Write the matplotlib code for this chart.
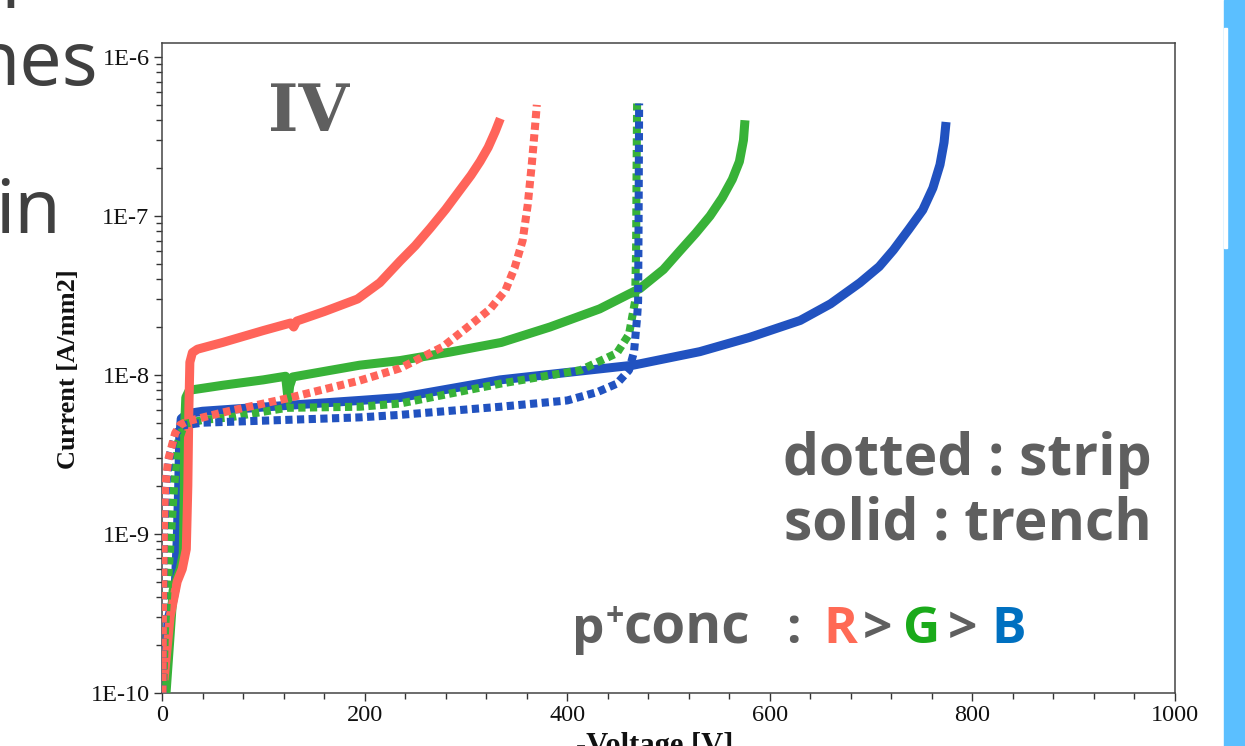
import matplotlib
matplotlib.use("Agg")
import matplotlib.pyplot as plt
from matplotlib.ticker import FixedLocator, LogLocator, NullFormatter, MultipleLocator
from matplotlib.patches import Rectangle

# ---- measured IV data: -Voltage [V] vs Current [A/mm2] ----
v_r_trench = [2, 8, 15, 20, 24, 25.5, 26.5, 27.5, 30, 35, 60, 100, 127, 130, 133,
              160, 193, 215, 235, 250, 265, 280, 294, 305, 314, 322, 329, 334]
i_r_trench = [1.2e-10, 3e-10, 5e-10, 6e-10, 8e-10, 2e-9, 6e-9, 1.2e-8, 1.38e-8, 1.45e-8,
              1.6e-8, 1.9e-8, 2.12e-8, 2.0e-8, 2.18e-8, 2.5e-8, 3.0e-8, 3.8e-8, 5.2e-8,
              6.5e-8, 8.4e-8, 1.1e-7, 1.45e-7, 1.8e-7, 2.2e-7, 2.7e-7, 3.4e-7, 4.1e-7]

v_g_trench = [4, 8, 11, 18, 21, 22, 22.5, 23.5, 27, 60, 100, 122, 123.5, 124.5, 126, 129,
              195, 235, 284, 335, 383, 432, 449, 472, 495, 511, 527, 541, 553, 563, 570,
              574, 575.5]
i_g_trench = [1e-10, 2.3e-10, 4.4e-10, 6e-10, 7.5e-10, 2e-9, 5e-9, 7.2e-9, 8e-9, 8.6e-9,
              9.3e-9, 9.8e-9, 8e-9, 7e-9, 8.5e-9, 9.7e-9, 1.15e-8, 1.23e-8, 1.39e-8, 1.6e-8,
              2.0e-8, 2.6e-8, 2.95e-8, 3.5e-8, 4.6e-8, 6.0e-8, 7.8e-8, 1.0e-7, 1.3e-7,
              1.7e-7, 2.2e-7, 3.0e-7, 4.0e-7]

v_b_trench = [2, 3, 6, 10, 13, 15, 16.5, 17.5, 19, 25, 40, 120, 195, 235, 334, 465, 531,
              580, 630, 660, 689, 708, 722, 737, 751, 761, 768, 772, 774]
i_b_trench = [1e-10, 1.2e-10, 2.9e-10, 3.6e-10, 4.5e-10, 9e-10, 2e-9, 4e-9, 5.3e-9, 5.7e-9,
              5.9e-9, 6.4e-9, 6.9e-9, 7.2e-9, 9.3e-9, 1.15e-8, 1.4e-8, 1.72e-8, 2.2e-8,
              2.8e-8, 3.8e-8, 4.8e-8, 6.1e-8, 8.2e-8, 1.09e-7, 1.5e-7, 2.1e-7, 2.9e-7, 3.9e-7]

v_r_strip = [0.5, 1, 2, 3, 6, 13, 18, 25, 60, 123, 195, 235, 277, 304, 324, 339, 348,
             356, 361, 365, 368, 370]
i_r_strip = [1e-10, 3.8e-10, 1.2e-9, 1.9e-9, 2.9e-9, 4.3e-9, 4.85e-9, 5.1e-9, 5.8e-9,
             7.1e-9, 9.2e-9, 1.1e-8, 1.5e-8, 2.05e-8, 2.6e-8, 3.4e-8, 4.7e-8, 7.0e-8,
             1.17e-7, 2.1e-7, 3.5e-7, 5.0e-7]

v_g_strip = [1, 3, 8, 12, 16, 22, 40, 67, 123, 195, 235, 334, 413, 449, 461, 467, 468,
             468.5, 469]
i_g_strip = [1e-10, 2.5e-10, 8e-10, 2e-9, 3.8e-9, 4.9e-9, 5.2e-9, 5.4e-9, 6.2e-9, 6.3e-9,
             6.6e-9, 8.8e-9, 1.07e-8, 1.37e-8, 1.8e-8, 2.9e-8, 6e-8, 2e-7, 5.1e-7]

v_b_strip = [0.5, 1, 2, 4, 8, 14, 20, 40, 120, 195, 235, 334, 400, 430, 449, 461, 466, 469,
             470, 470.5, 471]
i_b_strip = [1e-10, 3e-10, 1e-9, 2e-9, 3.2e-9, 4.3e-9, 4.8e-9, 5.0e-9, 5.2e-9, 5.4e-9,
             5.6e-9, 6.3e-9, 6.9e-9, 7.8e-9, 8.8e-9, 1.07e-8, 1.4e-8, 2.3e-8, 2.9e-8, 1e-7,
             5.1e-7]

x_ticks = [0, 200, 400, 600, 800, 1000]
y_ticks = [1e-10, 1e-9, 1e-8, 1e-7, 1e-6]
y_tick_labels = ["1E-10", "1E-9", "1E-8", "1E-7", "1E-6"]

RED = "#ff645a"
GREEN = "#38b238"
BLUE = "#2152c0"
GRAY = "#5f5f5f"
SANS = ["Open Sans", "DejaVu Sans"]

W, H = 1245, 746
fig = plt.figure(figsize=(W / 100, H / 100), dpi=100)
fig.patch.set_facecolor("white")


def fx(x):
    return x / W


def fy(y):
    return 1 - y / H


# side bar of the slide
fig.patches.append(Rectangle((fx(1224), 0), fx(21), 1, transform=fig.transFigure,
                             color="#5bbfff", zorder=0))
fig.patches.append(Rectangle((fx(1224), fy(248)), fx(2.5), fy(28) - fy(248),
                             transform=fig.transFigure, color="white", zorder=1))

# slide body text running off the left edge
body_kw = dict(family="Noto Sans", fontsize=54, color="#404040", ha="right", va="baseline")
fig.text(fx(33), fy(8), "er", **body_kw)
fig.text(fx(98), fy(85), "hes", **body_kw)
fig.text(fx(61), fy(233), "in", **body_kw)

ax = fig.add_axes([fx(162), fy(692.7), fx(1175) - fx(162), fy(43) - fy(692.7)])
ax.set_yscale("log")
ax.set_xlim(0, 1000)
ax.set_ylim(1e-10, 1.225e-6)

solid_kw = dict(lw=6.5, solid_capstyle="butt", solid_joinstyle="round")
dot_kw = dict(lw=5.8, linestyle=(0, (0.9, 0.55)), dash_capstyle="butt")

ax.plot(v_b_trench, i_b_trench, color=BLUE, zorder=3, **solid_kw)
ax.plot(v_g_trench, i_g_trench, color=GREEN, zorder=3, **solid_kw)
ax.plot(v_r_trench, i_r_trench, color=RED, zorder=3, **solid_kw)
ax.plot(v_g_strip, i_g_strip, color=GREEN, zorder=4, **dot_kw)
ax.plot(v_b_strip, i_b_strip, color=BLUE, zorder=4, **dot_kw)
ax.plot(v_r_strip, i_r_strip, color=RED, zorder=4, **dot_kw)

serif = "Liberation Serif"
ax.xaxis.set_major_locator(FixedLocator(x_ticks))
ax.xaxis.set_minor_locator(MultipleLocator(40))
ax.set_yticks(y_ticks)
ax.set_yticklabels(y_tick_labels)
ax.yaxis.set_minor_locator(LogLocator(base=10, subs=range(2, 10), numticks=20))
ax.yaxis.set_minor_formatter(NullFormatter())
ax.tick_params(which="both", direction="out", color="#333333", width=1,
               labelsize=17.5, labelcolor="#111111", top=False, right=False, pad=3)
ax.tick_params(which="major", length=6)
ax.tick_params(which="minor", length=4)
for lab in ax.get_xticklabels() + ax.get_yticklabels():
    lab.set_family(serif)
for sp in ax.spines.values():
    sp.set_color("#444444")
    sp.set_linewidth(1.1)

fig.text(fx(69), fy(369), "Current [A/mm2]", rotation=90, ha="center", va="center",
         family=serif, fontweight="bold", fontsize=19, color="#111111")
fig.text(fx(655), fy(732), "-Voltage [V]", ha="center", va="top",
         family=serif, fontweight="bold", fontsize=22, color="#111111")

# annotations
fig.text(fx(268), fy(131), "IV", family="DejaVu Serif", fontweight="bold", fontsize=47,
         color=GRAY, ha="left", va="baseline")
note_kw = dict(family=SANS, fontweight="bold", fontsize=41, color=GRAY,
               ha="right", va="baseline")
fig.text(fx(1152), fy(475), "dotted : strip", **note_kw)
fig.text(fx(1152), fy(540), "solid : trench", **note_kw)

# coloured ranking line: (text, colour, size, left px, baseline px)
rank_pieces = [("p", GRAY, 37, 572, 643), ("+", GRAY, 23, 606, 626),
               ("conc", GRAY, 39.5, 624, 643), (":", GRAY, 37, 786, 643),
               ("R", "#ff6a55", 37, 823, 643), (">", GRAY, 37, 863, 643),
               ("G", "#1aaa1a", 37, 903, 643), (">", GRAY, 37, 948, 643),
               ("B", "#0070c0", 37, 991, 643)]
for txt, col, size, left, base in rank_pieces:
    fig.text(fx(left), fy(base), txt, family=SANS, fontweight="bold",
             fontsize=size, color=col, ha="left", va="baseline")

fig.savefig("out.png", dpi=100)
